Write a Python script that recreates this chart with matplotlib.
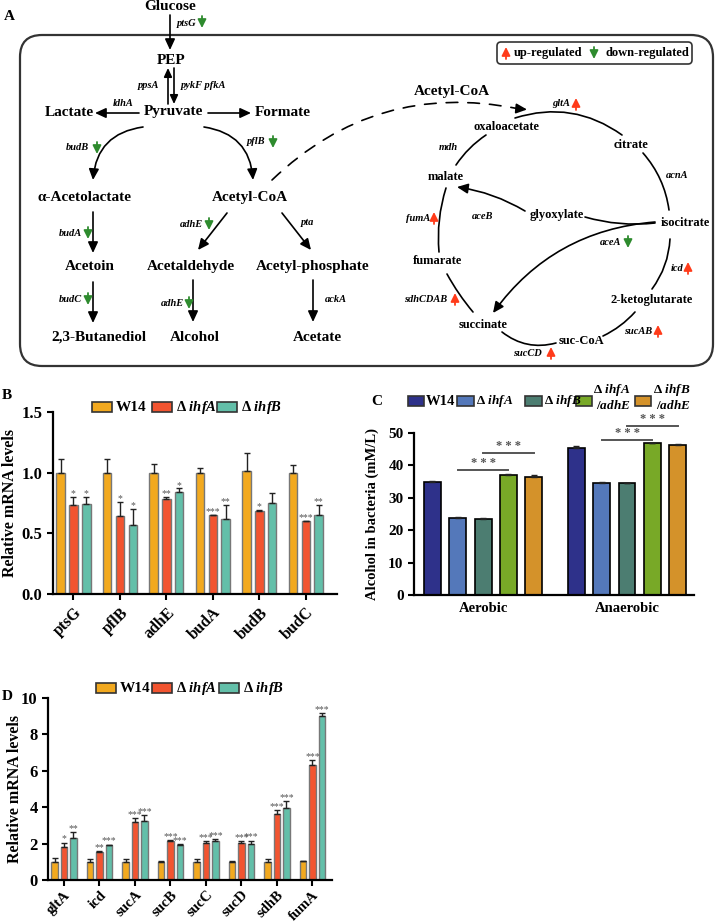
import matplotlib

matplotlib.use("Agg")

import matplotlib.pyplot as plt  # noqa: E402
import numpy as np  # noqa: E402
from matplotlib.patches import FancyBboxPatch, Rectangle  # noqa: E402
from matplotlib.ticker import FormatStrFormatter  # noqa: E402

plt.rcParams["font.family"] = ["Liberation Serif", "DejaVu Serif"]
plt.rcParams["font.weight"] = "bold"
plt.rcParams["axes.labelweight"] = "bold"
plt.rcParams["mathtext.fontset"] = "custom"
plt.rcParams["mathtext.it"] = "Liberation Serif:italic:bold"
plt.rcParams["mathtext.rm"] = "Liberation Serif:bold"

# ---------------------------------------------------------------------------
# Data
# ---------------------------------------------------------------------------
B_GENES = ["ptsG", "pflB", "adhE", "budA", "budB", "budC"]
B_W14 = [1.00, 1.00, 1.00, 1.00, 1.01, 1.00]
B_W14_ERR = [0.11, 0.11, 0.07, 0.04, 0.15, 0.06]
B_IHFA = [0.73, 0.64, 0.78, 0.65, 0.68, 0.60]
B_IHFA_ERR = [0.07, 0.12, 0.02, 0.005, 0.015, 0.005]
B_IHFB = [0.74, 0.57, 0.84, 0.62, 0.75, 0.65]
B_IHFB_ERR = [0.06, 0.13, 0.03, 0.115, 0.085, 0.085]
B_SIG_A = ["*", "*", "**", "***", "*", "***"]
B_SIG_B = ["*", "*", "*", "**", "", "**"]

C_CONDITIONS = ["Aerobic", "Anaerobic"]
C_STRAINS = ["W14", "ihfA", "ihfB", "ihfA/adhE", "ihfB/adhE"]
C_AEROBIC = [34.8, 23.8, 23.5, 37.0, 36.4]
C_AEROBIC_ERR = [0.25, 0.25, 0.3, 0.3, 0.7]
C_ANAEROBIC = [45.4, 34.5, 34.5, 46.8, 46.4]
C_ANAEROBIC_ERR = [0.6, 0.5, 0.2, 0.2, 0.2]
# significance: (condition index, strain from, strain to)
C_SIG_PAIRS = [(0, 1, 3), (0, 2, 4), (1, 1, 3), (1, 2, 4)]
C_SIG_Y = [38.6, 43.9, 47.9, 52.2]

D_GENES = ["gltA", "icd", "sucA", "sucB", "sucC", "sucD", "sdhB", "fumA"]
D_W14 = [1.00, 1.00, 1.00, 1.00, 1.00, 1.00, 1.00, 1.03]
D_W14_ERR = [0.19, 0.13, 0.15, 0.06, 0.15, 0.06, 0.13, 0.04]
D_IHFA = [1.81, 1.53, 3.16, 2.12, 2.01, 2.03, 3.63, 6.34]
D_IHFA_ERR = [0.25, 0.06, 0.24, 0.07, 0.13, 0.09, 0.19, 0.24]
D_IHFB = [2.30, 1.90, 3.25, 1.95, 2.17, 1.99, 3.95, 8.99]
D_IHFB_ERR = [0.31, 0.05, 0.31, 0.02, 0.06, 0.18, 0.38, 0.20]
D_SIG_A = ["*", "**", "***", "***", "***", "***", "***", "***"]
D_SIG_B = ["**", "***", "***", "***", "***", "***", "***", "***"]

# ---------------------------------------------------------------------------
# Colours
# ---------------------------------------------------------------------------
QPCR_COLORS = ["#F2A91F", "#F25430", "#63BFA9"]
ALC_COLORS = ["#2E318A", "#5478BA", "#4C7D71", "#78A927", "#D4922A"]
UP_COLOR = "#FF3B1A"
DOWN_COLOR = "#2E8B2E"
STAR_COLOR = "#555555"

W, H = 717, 922
fig = plt.figure(figsize=(W / 100, H / 100), dpi=100)

# overlay axes in pixel coordinates for diagram, panel letters, legends
ov = fig.add_axes([0, 0, 1, 1])
ov.set_xlim(0, W)
ov.set_ylim(H, 0)
ov.axis("off")

ARROW_HEAD = "-|>,head_length=0.65,head_width=0.3"


def arrow(p0, p1, rad=0.0, head=True, ls="-", lw=1.2, scale=10):
    ov.annotate(
        "", xy=p1, xytext=p0,
        arrowprops=dict(
            arrowstyle=ARROW_HEAD if head else "-",
            color="black", lw=lw, linestyle=ls,
            shrinkA=0, shrinkB=0, mutation_scale=scale,
            connectionstyle=f"arc3,rad={rad}",
        ),
    )


def reg_arrow(x, y, up):
    color = UP_COLOR if up else DOWN_COLOR
    y0, y1 = (y + 6, y - 6) if up else (y - 6, y + 6)
    ov.annotate(
        "", xy=(x, y1), xytext=(x, y0),
        arrowprops=dict(
            arrowstyle="-|>,head_length=0.5,head_width=0.25",
            color=color, lw=1.3, shrinkA=0, shrinkB=0, mutation_scale=10,
        ),
    )


def node(x, y, s, size=11):
    ov.text(x, y, s, ha="center", va="center", fontsize=size, fontweight="bold")


def enzyme(x, y, s, size=7.5):
    ov.text(x, y, s, ha="center", va="center", fontsize=size,
            style="italic", fontweight="bold")


# ---------------------------------------------------------------------------
# Panel A: pathway diagram
# ---------------------------------------------------------------------------
ov.text(9, 17, "A", ha="center", va="center", fontsize=11, fontweight="bold")
ov.add_patch(FancyBboxPatch((20, 35), 693, 331,
                            boxstyle="round,pad=0,rounding_size=22",
                            lw=1.6, ec="#333333", fc="none"))
ov.add_patch(FancyBboxPatch((497, 42), 195, 22,
                            boxstyle="round,pad=0,rounding_size=4",
                            lw=1.2, ec="#333333", fc="none"))
reg_arrow(506, 53, True)
ov.text(514, 53, "up-regulated", ha="left", va="center", fontsize=9)
reg_arrow(594, 53, False)
ov.text(605, 53, "down-regulated", ha="left", va="center", fontsize=9)

node(170, 7, "Glucose")
node(171, 60, "PEP")
node(173, 112, "Pyruvate")
node(69, 112, "Lactate")
node(283, 112, "Formate")
node(85, 197, "α-Acetolactate")
node(250, 197, "Acetyl-CoA")
node(90, 266, "Acetoin")
node(191, 266, "Acetaldehyde")
node(313, 266, "Acetyl-phosphate")
node(99, 337, "2,3-Butanediol")
node(195, 337, "Alcohol")
node(317, 337, "Acetate")
node(452, 91, "Acetyl-CoA")

arrow((170, 15), (170, 50))
arrow((174, 68), (174, 104), scale=8)
arrow((168, 104), (168, 68), scale=8)
arrow((139, 113), (95, 113))
arrow((208, 113), (251, 113))
arrow((143, 127), (93, 180), rad=0.4)
arrow((204, 127), (253, 180), rad=-0.4)
arrow((93, 212), (93, 253))
arrow((93, 282), (93, 323))
arrow((227, 213), (198, 250))
arrow((282, 213), (311, 250))
arrow((193, 280), (193, 322))
arrow((313, 280), (313, 322))
ov.annotate("", xy=(517, 108.5), xytext=(272, 180),
            arrowprops=dict(arrowstyle="-", color="black", lw=1.2,
                            linestyle=(0, (7, 6)), shrinkA=0, shrinkB=0,
                            connectionstyle="arc3,rad=-0.26"))
arrow((516, 108.5), (527, 109.5))

enzyme(187, 23, "ptsG")
reg_arrow(202, 22, False)
enzyme(148, 86, "ppsA")
enzyme(203, 86, "pykF pfkA")
enzyme(123, 103, "ldhA")
enzyme(77, 148, "budB")
reg_arrow(97, 148, False)
enzyme(256, 142, "pflB")
reg_arrow(273, 142, False)
enzyme(70, 233, "budA")
reg_arrow(88, 233, False)
enzyme(70, 299, "budC")
reg_arrow(88, 299, False)
enzyme(191, 224, "adhE")
reg_arrow(209, 224, False)
enzyme(307, 222, "pta")
enzyme(172, 303, "adhE")
reg_arrow(189, 303, False)
enzyme(336, 299, "ackA")

# TCA cycle
node(506, 127, "oxaloacetate", 9)
node(631, 145, "citrate", 9)
node(446, 177, "malate", 9)
node(557, 215, "glyoxylate", 9)
node(685, 223, "isocitrate", 9)
node(438, 261, "fumarate", 9)
node(652, 300, "2-ketoglutarate", 9)
node(483, 325, "succinate", 9)
node(581, 341, "suc-CoA", 9)

for p0, p1, rad in [
    ((515, 118), (622, 135), -0.25),
    ((643, 153), (669, 210), -0.15),
    ((670, 239), (652, 289), -0.15),
    ((635, 312), (603, 336), -0.1),
    ((556, 343), (502, 332), -0.25),
    ((473, 312), (447, 274), -0.05),
    ((439, 252), (446, 188), -0.1),
    ((456, 165), (486, 135), -0.1),
    ((585, 217), (655, 223), 0.1),
]:
    arrow(p0, p1, rad=rad, head=False)
arrow((525, 211), (457, 187), rad=0.1)
arrow((655, 222), (493, 313), rad=0.23)

enzyme(561, 104, "gltA")
reg_arrow(576, 104, True)
enzyme(448, 148, "mdh")
enzyme(677, 176, "acnA")
enzyme(483, 216, "aceB")
enzyme(418, 218, "fumA")
reg_arrow(434, 218, True)
enzyme(611, 242, "aceA")
reg_arrow(628, 242, False)
enzyme(677, 268, "icd")
reg_arrow(688, 268, True)
enzyme(426, 299, "sdhCDAB")
reg_arrow(455, 299, True)
enzyme(638, 331, "sucAB")
reg_arrow(658, 331, True)
enzyme(527, 353, "sucCD")
reg_arrow(551, 353, True)


# ---------------------------------------------------------------------------
# Bar panels
# ---------------------------------------------------------------------------
def px_axes(left, top, right, bottom):
    return fig.add_axes([left / W, 1 - bottom / H, (right - left) / W,
                         (bottom - top) / H])


def style_axes(ax):
    for side in ("top", "right"):
        ax.spines[side].set_visible(False)
    for side in ("left", "bottom"):
        ax.spines[side].set_linewidth(1.6)
    ax.tick_params(axis="both", width=1.5, length=4, labelsize=12)
    ax.set_facecolor("none")


def grouped_bars(ax, series, errs, colors, width, step, edge, lw,
                 stars=None, star_size=7, star_pad=0.0):
    n = len(series[0])
    x = np.arange(n)
    for i, (vals, err, c) in enumerate(zip(series, errs, colors)):
        xi = x + (i - (len(series) - 1) / 2) * step
        ax.bar(xi, vals, width, color=c, edgecolor=edge, linewidth=lw, zorder=2)
        ax.errorbar(xi, vals, yerr=[np.zeros(n), err], fmt="none",
                    ecolor="#222222", elinewidth=1.0, capsize=2.2,
                    capthick=1.0, zorder=3)
        if stars is not None and stars[i] is not None:
            for xx, v, e, s in zip(xi, vals, err, stars[i]):
                if s:
                    ax.text(xx, v + e + star_pad, s, ha="center", va="bottom",
                            fontsize=star_size, color=STAR_COLOR,
                            fontweight="normal")
    return x


def legend_item(x, y, color, label, size=11, w=20, gap=4):
    ov.add_patch(Rectangle((x, y - 5), w, 10, fc=color, ec="#333333", lw=1.2))
    ov.text(x + w + gap, y, label, ha="left", va="center", fontsize=size)


# Panel B
ov.text(7, 395, "B", ha="center", va="center", fontsize=11)
ax_b = px_axes(53, 412, 337, 594)
style_axes(ax_b)
xb = grouped_bars(ax_b, [B_W14, B_IHFA, B_IHFB],
                  [B_W14_ERR, B_IHFA_ERR, B_IHFB_ERR], QPCR_COLORS,
                  0.183, 0.276, "#777777", 1.0,
                  stars=[None, B_SIG_A, B_SIG_B], star_pad=-0.01)
ax_b.set_xlim(-0.44, 5.67)
ax_b.set_ylim(0, 1.5)
ax_b.set_yticks([0, 0.5, 1.0, 1.5])
ax_b.yaxis.set_major_formatter(FormatStrFormatter("%.1f"))
ax_b.set_xticks(xb)
ax_b.set_xticklabels(B_GENES, rotation=45, ha="right", rotation_mode="anchor",
                     fontsize=11.5)
ax_b.set_ylabel("Relative mRNA levels", fontsize=11.5)
ax_b.yaxis.set_label_coords(-0.124, 0.5)
legend_item(92, 407, QPCR_COLORS[0], "W14")
legend_item(152, 407, QPCR_COLORS[1], r"Δ $\mathit{ihfA}$", size=10.5)
legend_item(217, 407, QPCR_COLORS[2], r"Δ $\mathit{ihfB}$", size=10.5)

# Panel C
ov.text(377, 401, "C", ha="center", va="center", fontsize=11)
ax_c = px_axes(414, 433, 694, 595)
style_axes(ax_c)
c_series = [[C_AEROBIC[i], C_ANAEROBIC[i]] for i in range(len(C_STRAINS))]
c_errs = [[C_AEROBIC_ERR[i], C_ANAEROBIC_ERR[i]] for i in range(len(C_STRAINS))]
c_step = 0.176
xc = grouped_bars(ax_c, c_series, c_errs, ALC_COLORS, 0.117, c_step,
                  "black", 1.2)
ax_c.set_xlim(-0.48, 1.465)
ax_c.set_ylim(0, 50)
ax_c.set_yticks([0, 10, 20, 30, 40, 50])
ax_c.set_xticks(xc)
ax_c.set_xticklabels(C_CONDITIONS, fontsize=10.5)
ax_c.tick_params(axis="x", length=0, pad=5)
ax_c.tick_params(axis="y", labelsize=11)
ax_c.set_ylabel("Alcohol in bacteria (mM/L)", fontsize=10.5)
ax_c.yaxis.set_label_coords(-0.125, 0.5)
for (cond, s0, s1), yy in zip(C_SIG_PAIRS, C_SIG_Y):
    x0 = cond + (s0 - 2) * c_step
    x1 = cond + (s1 - 2) * c_step
    ax_c.plot([x0, x1], [yy, yy], color=STAR_COLOR, lw=1.4, clip_on=False)
    ax_c.text((x0 + x1) / 2, yy + 0.2, "* * *", ha="center", va="bottom",
              fontsize=9, color=STAR_COLOR, clip_on=False)
legend_item(408, 401, ALC_COLORS[0], "W14", size=10.5, w=16, gap=2)
legend_item(457, 401, ALC_COLORS[1], r"Δ $\mathit{ihfA}$", size=9.5, w=17, gap=2)
legend_item(525, 401, ALC_COLORS[2], r"Δ $\mathit{ihfB}$", size=9.5, w=17, gap=2)
ov.add_patch(Rectangle((576, 396), 16, 10, fc=ALC_COLORS[3], ec="#333333", lw=1.2))
ov.text(612, 390, r"Δ $\mathit{ihfA}$", ha="center", va="center", fontsize=9.5)
ov.text(613, 405, r"/$\mathit{adhE}$", ha="center", va="center", fontsize=9.5)
ov.add_patch(Rectangle((635, 396), 16, 10, fc=ALC_COLORS[4], ec="#333333", lw=1.2))
ov.text(672, 390, r"Δ $\mathit{ihfB}$", ha="center", va="center", fontsize=9.5)
ov.text(673, 405, r"/$\mathit{adhE}$", ha="center", va="center", fontsize=9.5)

# Panel D
ov.text(7, 696, "D", ha="center", va="center", fontsize=11)
ax_d = px_axes(48, 698, 332, 880)
style_axes(ax_d)
xd = grouped_bars(ax_d, [D_W14, D_IHFA, D_IHFB],
                  [D_W14_ERR, D_IHFA_ERR, D_IHFB_ERR], QPCR_COLORS,
                  0.18, 0.266, "#777777", 1.0,
                  stars=[None, D_SIG_A, D_SIG_B], star_size=7, star_pad=-0.05)
ax_d.set_xlim(-0.45, 7.55)
ax_d.set_ylim(0, 10)
ax_d.set_yticks([0, 2, 4, 6, 8, 10])
ax_d.set_xticks(xd)
ax_d.set_xticklabels(D_GENES, rotation=45, ha="right", rotation_mode="anchor",
                     fontsize=10.5)
ax_d.tick_params(axis="x", pad=2)
ax_d.set_ylabel("Relative mRNA levels", fontsize=11.5)
ax_d.yaxis.set_label_coords(-0.088, 0.5)
legend_item(96, 688, QPCR_COLORS[0], "W14")
legend_item(152, 688, QPCR_COLORS[1], r"Δ $\mathit{ihfA}$", size=10.5)
legend_item(219, 688, QPCR_COLORS[2], r"Δ $\mathit{ihfB}$", size=10.5)

fig.savefig("out.png", dpi=100)
